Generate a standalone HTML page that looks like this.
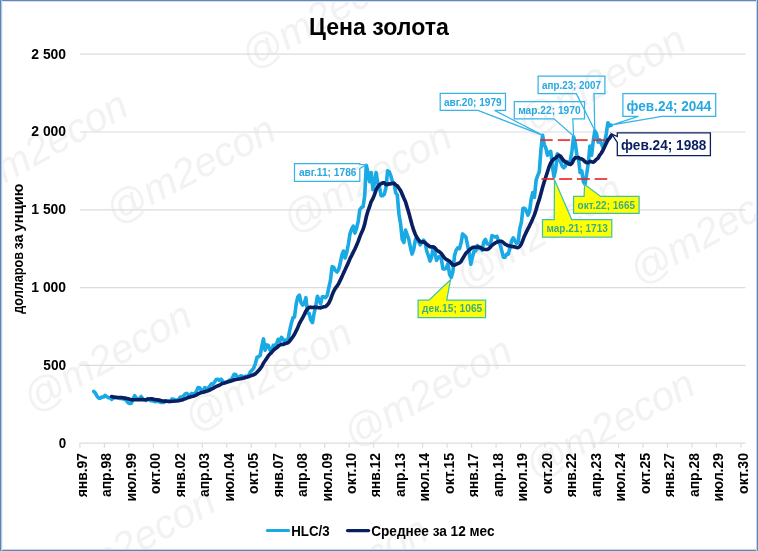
<!DOCTYPE html>
<html lang="ru">
<head>
<meta charset="utf-8">
<title>Цена золота</title>
<style>
html,body{margin:0;padding:0;background:#fff;}
body{width:758px;height:551px;overflow:hidden;font-family:"Liberation Sans", Arial, sans-serif;}
svg{display:block;}
</style>
</head>
<body>
<svg width="758" height="551" viewBox="0 0 758 551" font-family='"Liberation Sans", Arial, sans-serif'>
<rect x="0" y="0" width="758" height="551" fill="#fff"/>
<g fill="#f2f2f2" font-style="italic" font-weight="normal" font-size="40.6">
<text transform="translate(250.6 70.6) rotate(-29.0)" x="0" y="0">@m2econ</text>
<text transform="translate(526.8 138.0) rotate(-29.0)" x="0" y="0">@m2econ</text>
<text transform="translate(-31.3 203.4) rotate(-29.0)" x="0" y="0">@m2econ</text>
<text transform="translate(114.5 224.9) rotate(-27.7)" x="0" y="0">@m2econ</text>
<text transform="translate(292.3 234.4) rotate(-28.8)" x="0" y="0">@m2econ</text>
<text transform="translate(465.5 290.9) rotate(-30.4)" x="0" y="0">@m2econ</text>
<text transform="translate(639.0 285.8) rotate(-29.0)" x="0" y="0">@m2econ</text>
<text transform="translate(32.5 413.4) rotate(-28.8)" x="0" y="0">@m2econ</text>
<text transform="translate(194.0 433.1) rotate(-29.7)" x="0" y="0">@m2econ</text>
<text transform="translate(352.9 448.8) rotate(-28.9)" x="0" y="0">@m2econ</text>
<text transform="translate(534.5 480.5) rotate(-28.3)" x="0" y="0">@m2econ</text>
<text transform="translate(56.4 599.7) rotate(-29.0)" x="0" y="0">@m2econ</text>
<text transform="translate(269.0 628.4) rotate(-29.0)" x="0" y="0">@m2econ</text>
</g>
<line x1="79.9" x2="745.6" y1="365.40" y2="365.40" stroke="#dcdcdc" stroke-width="1.2"/>
<line x1="79.9" x2="745.6" y1="287.60" y2="287.60" stroke="#dcdcdc" stroke-width="1.2"/>
<line x1="79.9" x2="745.6" y1="209.80" y2="209.80" stroke="#dcdcdc" stroke-width="1.2"/>
<line x1="79.9" x2="745.6" y1="132.00" y2="132.00" stroke="#dcdcdc" stroke-width="1.2"/>
<line x1="79.9" x2="745.6" y1="54.20" y2="54.20" stroke="#dcdcdc" stroke-width="1.2"/>
<line x1="79.30000000000001" x2="745.6" y1="443.2" y2="443.2" stroke="#dcdcdc" stroke-width="1.2"/>
<line x1="79.90" x2="79.90" y1="443.2" y2="447.7" stroke="#dcdcdc" stroke-width="1.2"/>
<line x1="104.38" x2="104.38" y1="443.2" y2="447.7" stroke="#dcdcdc" stroke-width="1.2"/>
<line x1="128.86" x2="128.86" y1="443.2" y2="447.7" stroke="#dcdcdc" stroke-width="1.2"/>
<line x1="153.34" x2="153.34" y1="443.2" y2="447.7" stroke="#dcdcdc" stroke-width="1.2"/>
<line x1="177.83" x2="177.83" y1="443.2" y2="447.7" stroke="#dcdcdc" stroke-width="1.2"/>
<line x1="202.31" x2="202.31" y1="443.2" y2="447.7" stroke="#dcdcdc" stroke-width="1.2"/>
<line x1="226.79" x2="226.79" y1="443.2" y2="447.7" stroke="#dcdcdc" stroke-width="1.2"/>
<line x1="251.27" x2="251.27" y1="443.2" y2="447.7" stroke="#dcdcdc" stroke-width="1.2"/>
<line x1="275.75" x2="275.75" y1="443.2" y2="447.7" stroke="#dcdcdc" stroke-width="1.2"/>
<line x1="300.23" x2="300.23" y1="443.2" y2="447.7" stroke="#dcdcdc" stroke-width="1.2"/>
<line x1="324.71" x2="324.71" y1="443.2" y2="447.7" stroke="#dcdcdc" stroke-width="1.2"/>
<line x1="349.20" x2="349.20" y1="443.2" y2="447.7" stroke="#dcdcdc" stroke-width="1.2"/>
<line x1="373.68" x2="373.68" y1="443.2" y2="447.7" stroke="#dcdcdc" stroke-width="1.2"/>
<line x1="398.16" x2="398.16" y1="443.2" y2="447.7" stroke="#dcdcdc" stroke-width="1.2"/>
<line x1="422.64" x2="422.64" y1="443.2" y2="447.7" stroke="#dcdcdc" stroke-width="1.2"/>
<line x1="447.12" x2="447.12" y1="443.2" y2="447.7" stroke="#dcdcdc" stroke-width="1.2"/>
<line x1="471.60" x2="471.60" y1="443.2" y2="447.7" stroke="#dcdcdc" stroke-width="1.2"/>
<line x1="496.09" x2="496.09" y1="443.2" y2="447.7" stroke="#dcdcdc" stroke-width="1.2"/>
<line x1="520.57" x2="520.57" y1="443.2" y2="447.7" stroke="#dcdcdc" stroke-width="1.2"/>
<line x1="545.05" x2="545.05" y1="443.2" y2="447.7" stroke="#dcdcdc" stroke-width="1.2"/>
<line x1="569.53" x2="569.53" y1="443.2" y2="447.7" stroke="#dcdcdc" stroke-width="1.2"/>
<line x1="594.01" x2="594.01" y1="443.2" y2="447.7" stroke="#dcdcdc" stroke-width="1.2"/>
<line x1="618.49" x2="618.49" y1="443.2" y2="447.7" stroke="#dcdcdc" stroke-width="1.2"/>
<line x1="642.97" x2="642.97" y1="443.2" y2="447.7" stroke="#dcdcdc" stroke-width="1.2"/>
<line x1="667.46" x2="667.46" y1="443.2" y2="447.7" stroke="#dcdcdc" stroke-width="1.2"/>
<line x1="691.94" x2="691.94" y1="443.2" y2="447.7" stroke="#dcdcdc" stroke-width="1.2"/>
<line x1="716.42" x2="716.42" y1="443.2" y2="447.7" stroke="#dcdcdc" stroke-width="1.2"/>
<line x1="740.90" x2="740.90" y1="443.2" y2="447.7" stroke="#dcdcdc" stroke-width="1.2"/>
<text x="58.70" y="447.50" font-size="14" fill="#000" font-weight="bold" textLength="7.40" lengthAdjust="spacingAndGlyphs">0</text>
<text x="43.30" y="369.70" font-size="14" fill="#000" font-weight="bold" textLength="22.80" lengthAdjust="spacingAndGlyphs">500</text>
<text x="31.30" y="291.90" font-size="14" fill="#000" font-weight="bold" textLength="34.80" lengthAdjust="spacingAndGlyphs">1 000</text>
<text x="31.30" y="214.10" font-size="14" fill="#000" font-weight="bold" textLength="34.80" lengthAdjust="spacingAndGlyphs">1 500</text>
<text x="31.30" y="136.30" font-size="14" fill="#000" font-weight="bold" textLength="34.80" lengthAdjust="spacingAndGlyphs">2 000</text>
<text x="31.30" y="58.50" font-size="14" fill="#000" font-weight="bold" textLength="34.80" lengthAdjust="spacingAndGlyphs">2 500</text>
<text transform="translate(23.3 313.7) rotate(-90)" font-size="13.8" font-weight="bold" fill="#000"><tspan x="0" textLength="61.6" lengthAdjust="spacingAndGlyphs">долларов</tspan> <tspan x="64.2" textLength="15.0" lengthAdjust="spacingAndGlyphs">за</tspan> <tspan x="82.2" textLength="48.0" lengthAdjust="spacingAndGlyphs">унцию</tspan></text>
<text x="86.70" y="497.30" font-size="14" fill="#000" font-weight="bold" textLength="44.40" lengthAdjust="spacingAndGlyphs" transform="rotate(-90 86.70 497.30)">янв.97</text>
<text x="111.18" y="497.10" font-size="14" fill="#000" font-weight="bold" textLength="44.20" lengthAdjust="spacingAndGlyphs" transform="rotate(-90 111.18 497.10)">апр.98</text>
<text x="135.66" y="501.50" font-size="14" fill="#000" font-weight="bold" textLength="48.60" lengthAdjust="spacingAndGlyphs" transform="rotate(-90 135.66 501.50)">июл.99</text>
<text x="160.14" y="493.90" font-size="14" fill="#000" font-weight="bold" textLength="41.00" lengthAdjust="spacingAndGlyphs" transform="rotate(-90 160.14 493.90)">окт.00</text>
<text x="184.63" y="497.30" font-size="14" fill="#000" font-weight="bold" textLength="44.40" lengthAdjust="spacingAndGlyphs" transform="rotate(-90 184.63 497.30)">янв.02</text>
<text x="209.11" y="497.10" font-size="14" fill="#000" font-weight="bold" textLength="44.20" lengthAdjust="spacingAndGlyphs" transform="rotate(-90 209.11 497.10)">апр.03</text>
<text x="233.59" y="501.50" font-size="14" fill="#000" font-weight="bold" textLength="48.60" lengthAdjust="spacingAndGlyphs" transform="rotate(-90 233.59 501.50)">июл.04</text>
<text x="258.07" y="493.90" font-size="14" fill="#000" font-weight="bold" textLength="41.00" lengthAdjust="spacingAndGlyphs" transform="rotate(-90 258.07 493.90)">окт.05</text>
<text x="282.55" y="497.30" font-size="14" fill="#000" font-weight="bold" textLength="44.40" lengthAdjust="spacingAndGlyphs" transform="rotate(-90 282.55 497.30)">янв.07</text>
<text x="307.03" y="497.10" font-size="14" fill="#000" font-weight="bold" textLength="44.20" lengthAdjust="spacingAndGlyphs" transform="rotate(-90 307.03 497.10)">апр.08</text>
<text x="331.51" y="501.50" font-size="14" fill="#000" font-weight="bold" textLength="48.60" lengthAdjust="spacingAndGlyphs" transform="rotate(-90 331.51 501.50)">июл.09</text>
<text x="356.00" y="493.90" font-size="14" fill="#000" font-weight="bold" textLength="41.00" lengthAdjust="spacingAndGlyphs" transform="rotate(-90 356.00 493.90)">окт.10</text>
<text x="380.48" y="497.30" font-size="14" fill="#000" font-weight="bold" textLength="44.40" lengthAdjust="spacingAndGlyphs" transform="rotate(-90 380.48 497.30)">янв.12</text>
<text x="404.96" y="497.10" font-size="14" fill="#000" font-weight="bold" textLength="44.20" lengthAdjust="spacingAndGlyphs" transform="rotate(-90 404.96 497.10)">апр.13</text>
<text x="429.44" y="501.50" font-size="14" fill="#000" font-weight="bold" textLength="48.60" lengthAdjust="spacingAndGlyphs" transform="rotate(-90 429.44 501.50)">июл.14</text>
<text x="453.92" y="493.90" font-size="14" fill="#000" font-weight="bold" textLength="41.00" lengthAdjust="spacingAndGlyphs" transform="rotate(-90 453.92 493.90)">окт.15</text>
<text x="478.40" y="497.30" font-size="14" fill="#000" font-weight="bold" textLength="44.40" lengthAdjust="spacingAndGlyphs" transform="rotate(-90 478.40 497.30)">янв.17</text>
<text x="502.89" y="497.10" font-size="14" fill="#000" font-weight="bold" textLength="44.20" lengthAdjust="spacingAndGlyphs" transform="rotate(-90 502.89 497.10)">апр.18</text>
<text x="527.37" y="501.50" font-size="14" fill="#000" font-weight="bold" textLength="48.60" lengthAdjust="spacingAndGlyphs" transform="rotate(-90 527.37 501.50)">июл.19</text>
<text x="551.85" y="493.90" font-size="14" fill="#000" font-weight="bold" textLength="41.00" lengthAdjust="spacingAndGlyphs" transform="rotate(-90 551.85 493.90)">окт.20</text>
<text x="576.33" y="497.30" font-size="14" fill="#000" font-weight="bold" textLength="44.40" lengthAdjust="spacingAndGlyphs" transform="rotate(-90 576.33 497.30)">янв.22</text>
<text x="600.81" y="497.10" font-size="14" fill="#000" font-weight="bold" textLength="44.20" lengthAdjust="spacingAndGlyphs" transform="rotate(-90 600.81 497.10)">апр.23</text>
<text x="625.29" y="501.50" font-size="14" fill="#000" font-weight="bold" textLength="48.60" lengthAdjust="spacingAndGlyphs" transform="rotate(-90 625.29 501.50)">июл.24</text>
<text x="649.77" y="493.90" font-size="14" fill="#000" font-weight="bold" textLength="41.00" lengthAdjust="spacingAndGlyphs" transform="rotate(-90 649.77 493.90)">окт.25</text>
<text x="674.26" y="497.30" font-size="14" fill="#000" font-weight="bold" textLength="44.40" lengthAdjust="spacingAndGlyphs" transform="rotate(-90 674.26 497.30)">янв.27</text>
<text x="698.74" y="497.10" font-size="14" fill="#000" font-weight="bold" textLength="44.20" lengthAdjust="spacingAndGlyphs" transform="rotate(-90 698.74 497.10)">апр.28</text>
<text x="723.22" y="501.50" font-size="14" fill="#000" font-weight="bold" textLength="48.60" lengthAdjust="spacingAndGlyphs" transform="rotate(-90 723.22 501.50)">июл.29</text>
<text x="747.70" y="493.90" font-size="14" fill="#000" font-weight="bold" textLength="41.00" lengthAdjust="spacingAndGlyphs" transform="rotate(-90 747.70 493.90)">окт.30</text>
<text x="309.00" y="34.60" font-size="24.3" fill="#000" font-weight="bold" textLength="139.90" lengthAdjust="spacingAndGlyphs">Цена золота</text>
<polyline points="93.8,391.4 95.4,393.1 97.0,396.1 98.7,398.1 100.3,398.1 101.9,397.1 103.6,397.0 105.2,395.3 106.8,396.8 108.5,397.8 110.1,397.9 111.7,399.3 113.4,397.9 115.0,397.0 116.6,397.5 118.3,398.1 119.9,398.5 121.5,398.4 123.2,399.0 124.8,399.2 126.4,400.4 128.0,402.7 129.7,403.5 131.3,403.2 132.9,399.6 134.6,395.7 136.2,397.8 137.8,398.9 139.5,399.0 141.1,396.5 142.7,399.0 144.4,399.8 146.0,400.4 147.6,398.7 149.3,399.6 150.9,400.6 152.5,400.7 154.2,401.3 155.8,401.7 157.4,400.9 159.1,401.8 160.7,402.4 162.3,402.4 164.0,402.4 165.6,400.9 167.2,401.2 168.8,401.5 170.5,400.7 172.1,398.9 173.7,399.2 175.4,400.3 177.0,400.1 178.6,399.5 180.3,397.1 181.9,397.1 183.5,395.9 185.2,394.0 186.8,393.4 188.4,394.7 190.1,395.0 191.7,393.4 193.3,393.9 195.0,393.6 196.6,390.8 198.2,387.5 199.9,388.0 201.5,390.6 203.1,391.7 204.8,387.5 206.4,388.3 208.0,388.4 209.7,386.4 211.3,383.9 212.9,384.1 214.5,382.2 216.2,379.6 217.8,379.2 219.4,380.5 221.1,379.1 222.7,381.3 224.3,383.1 226.0,382.2 227.6,381.6 229.2,380.5 230.9,379.7 232.5,377.5 234.1,374.4 235.8,374.6 237.4,377.2 239.0,377.1 240.7,375.8 242.3,376.3 243.9,377.7 245.6,376.0 247.2,377.1 248.8,375.2 250.5,371.6 252.1,370.2 253.7,368.2 255.4,363.5 257.0,357.2 258.6,356.7 260.2,355.3 261.9,345.9 263.5,338.9 265.1,350.2 266.8,344.9 268.4,345.5 270.0,350.2 271.7,351.1 273.3,345.2 274.9,345.5 276.6,343.9 278.2,339.3 279.8,341.3 281.5,337.4 283.1,339.3 284.7,341.4 286.4,340.0 288.0,339.3 289.6,331.2 291.3,323.4 292.9,317.9 294.5,316.9 296.2,303.9 297.8,296.9 299.4,295.1 301.0,302.4 302.7,305.0 304.3,303.2 305.9,297.7 307.6,313.3 309.2,313.3 310.8,320.3 312.5,322.6 314.1,313.3 315.7,306.3 317.4,296.2 319.0,300.0 320.6,303.9 322.3,296.9 323.9,296.9 325.5,297.7 327.2,295.4 328.8,287.6 330.4,280.6 332.1,266.6 333.7,267.4 335.3,270.5 337.0,272.0 338.6,269.7 340.2,263.5 341.9,254.9 343.5,251.0 345.1,258.0 346.7,252.6 348.4,244.0 350.0,233.9 351.6,229.2 353.3,226.1 354.9,233.1 356.5,228.5 358.2,221.5 359.8,209.8 361.4,207.5 363.1,206.7 364.7,195.8 366.3,165.3 368.0,172.5 369.6,181.8 371.2,172.5 372.9,189.6 374.5,183.3 376.1,172.5 377.8,183.3 379.4,186.5 381.0,195.8 382.7,195.8 384.3,194.2 385.9,188.0 387.6,170.9 389.2,171.7 390.8,175.6 392.4,181.8 394.1,183.3 395.7,192.7 397.3,195.0 399.0,214.5 400.6,223.8 402.2,239.4 403.9,242.5 405.5,230.0 407.1,234.7 408.8,239.4 410.4,247.1 412.0,254.1 413.7,249.5 415.3,240.1 416.9,237.0 418.6,241.7 420.2,244.8 421.8,242.5 423.5,240.1 425.1,242.5 426.7,251.0 428.4,255.7 430.0,261.1 431.6,257.3 433.2,247.9 434.9,252.6 436.5,260.4 438.1,257.3 439.8,256.5 441.4,259.6 443.0,268.9 444.7,268.9 446.3,268.1 447.9,263.5 449.6,274.4 451.2,277.5 452.8,272.0 454.5,255.7 456.1,250.3 457.7,247.9 459.4,248.7 461.0,243.3 462.6,233.9 464.3,235.5 465.9,237.0 467.5,244.8 469.2,252.6 470.8,264.3 472.4,257.3 474.1,251.0 475.7,251.0 477.3,245.6 478.9,248.7 480.6,247.9 482.2,250.3 483.8,241.7 485.5,239.4 487.1,244.0 488.7,244.0 490.4,244.8 492.0,235.5 493.6,236.3 495.3,237.0 496.9,236.3 498.5,240.9 500.2,244.8 501.8,251.0 503.4,257.3 505.1,257.3 506.7,254.1 508.3,254.1 510.0,247.9 511.6,240.9 513.2,237.8 514.9,240.9 516.5,243.3 518.1,242.5 519.8,228.5 521.4,222.2 523.0,208.2 524.6,208.2 526.3,210.6 527.9,215.2 529.5,211.4 531.2,198.9 532.8,192.7 534.4,197.4 536.1,180.2 537.7,175.6 539.3,171.7 541.0,149.1 542.6,135.3 544.2,144.4 545.9,148.3 547.5,155.3 549.1,152.2 550.8,151.4 552.4,166.2 554.0,176.7 555.7,169.3 557.3,153.8 558.9,160.0 560.6,161.6 562.2,166.2 563.8,167.8 565.4,166.2 567.1,161.6 568.7,163.9 570.3,160.8 572.0,150.7 573.6,136.7 575.2,142.9 576.9,155.3 578.5,158.5 580.1,172.5 581.8,170.9 583.4,181.8 585.0,184.1 586.7,174.0 588.3,163.1 589.9,146.0 591.6,155.3 593.2,141.3 594.8,130.9 596.5,133.6 598.1,142.1 599.7,139.8 601.4,143.7 603.0,147.6 604.6,142.9 606.3,133.6 607.9,122.7 609.5,125.8 611.1,125.2" fill="none" stroke="#19a9e4" stroke-width="3.6" stroke-linejoin="round" stroke-linecap="round"/>
<polyline points="111.7,396.5 113.4,397.0 115.0,397.4 116.6,397.5 118.3,397.5 119.9,397.5 121.5,397.6 123.2,397.8 124.8,398.1 126.4,398.4 128.0,398.8 129.7,399.3 131.3,399.6 132.9,399.8 134.6,399.7 136.2,399.7 137.8,399.7 139.5,399.8 141.1,399.6 142.7,399.6 144.4,399.7 146.0,399.7 147.6,399.3 149.3,399.0 150.9,398.8 152.5,398.9 154.2,399.4 155.8,399.7 157.4,399.9 159.1,400.1 160.7,400.6 162.3,400.9 164.0,401.1 165.6,401.1 167.2,401.3 168.8,401.5 170.5,401.5 172.1,401.3 173.7,401.2 175.4,401.0 177.0,401.0 178.6,400.8 180.3,400.3 181.9,399.9 183.5,399.4 185.2,398.8 186.8,398.1 188.4,397.6 190.1,397.1 191.7,396.6 193.3,396.2 195.0,395.6 196.6,394.9 198.2,393.9 199.9,393.1 201.5,392.6 203.1,392.2 204.8,391.7 206.4,391.2 208.0,390.7 209.7,390.0 211.3,389.2 212.9,388.4 214.5,387.4 216.2,386.5 217.8,385.8 219.4,385.2 221.1,384.2 222.7,383.4 224.3,383.0 226.0,382.5 227.6,381.9 229.2,381.4 230.9,381.1 232.5,380.5 234.1,379.9 235.8,379.5 237.4,379.3 239.0,379.0 240.7,378.8 242.3,378.3 243.9,377.9 245.6,377.4 247.2,377.0 248.8,376.6 250.5,375.9 252.1,375.3 253.7,374.7 255.4,373.8 257.0,372.2 258.6,370.5 260.2,368.7 261.9,366.2 263.5,363.0 265.1,360.8 266.8,358.2 268.4,355.7 270.0,353.9 271.7,352.3 273.3,350.4 274.9,348.9 276.6,347.8 278.2,346.3 279.8,345.1 281.5,344.4 283.1,344.5 284.7,343.7 286.4,343.3 288.0,342.8 289.6,341.2 291.3,338.9 292.9,336.7 294.5,334.3 296.2,330.9 297.8,327.4 299.4,323.6 301.0,320.6 302.7,317.8 304.3,314.6 305.9,311.1 307.6,308.9 309.2,307.4 310.8,307.2 312.5,307.5 314.1,307.2 315.7,307.4 317.4,307.4 319.0,307.8 320.6,307.9 322.3,307.2 323.9,306.7 325.5,306.7 327.2,305.2 328.8,303.1 330.4,299.8 332.1,295.1 333.7,291.3 335.3,288.3 337.0,286.3 338.6,283.8 340.2,280.4 341.9,276.9 343.5,273.1 345.1,269.8 346.7,266.2 348.4,262.6 350.0,258.7 351.6,255.6 353.3,252.1 354.9,249.0 356.5,245.4 358.2,241.4 359.8,236.9 361.4,232.9 363.1,229.2 364.7,224.1 366.3,216.8 368.0,210.8 369.6,206.5 371.2,201.7 372.9,198.7 374.5,194.6 376.1,189.9 377.8,186.7 379.4,184.8 381.0,183.8 382.7,182.9 384.3,182.8 385.9,184.6 387.6,184.5 389.2,183.7 390.8,183.9 392.4,183.3 394.1,183.3 395.7,185.0 397.3,185.9 399.0,188.3 400.6,190.6 402.2,194.2 403.9,198.3 405.5,201.8 407.1,207.1 408.8,212.7 410.4,218.7 412.0,224.7 413.7,230.2 415.3,234.2 416.9,237.7 418.6,239.9 420.2,241.7 421.8,242.0 423.5,241.8 425.1,242.8 426.7,244.2 428.4,245.5 430.0,246.7 431.6,246.9 433.2,246.8 434.9,247.9 436.5,249.8 438.1,251.1 439.8,252.1 441.4,253.5 443.0,255.9 444.7,258.1 446.3,259.5 447.9,260.2 449.6,261.3 451.2,263.0 452.8,265.0 454.5,265.2 456.1,264.4 457.7,263.6 459.4,263.0 461.0,261.6 462.6,258.7 464.3,255.9 465.9,253.3 467.5,251.7 469.2,249.9 470.8,248.8 472.4,247.6 474.1,247.2 475.7,247.3 477.3,247.1 478.9,247.1 480.6,247.5 482.2,248.8 483.8,249.3 485.5,249.5 487.1,249.5 488.7,248.8 490.4,247.1 492.0,245.3 493.6,244.1 495.3,242.9 496.9,242.2 498.5,241.5 500.2,241.2 501.8,241.3 503.4,242.6 505.1,244.1 506.7,244.9 508.3,245.8 510.0,246.0 511.6,246.5 513.2,246.6 514.9,246.9 516.5,247.5 518.1,247.7 519.8,246.3 521.4,243.9 523.0,239.8 524.6,235.7 526.3,232.1 527.9,228.9 529.5,225.8 531.2,222.3 532.8,218.6 534.4,214.9 536.1,209.7 537.7,204.1 539.3,199.4 541.0,193.3 542.6,187.2 544.2,181.9 545.9,176.7 547.5,171.7 549.1,166.8 550.8,162.8 552.4,160.6 554.0,158.9 555.7,158.0 557.3,156.2 558.9,155.2 560.6,156.2 562.2,158.8 563.8,160.7 565.4,162.2 567.1,162.8 568.7,163.7 570.3,164.5 572.0,163.2 573.6,159.9 575.2,157.7 576.9,157.8 578.5,157.7 580.1,158.6 581.8,159.0 583.4,160.1 585.0,161.6 586.7,162.7 588.3,162.6 589.9,161.4 591.6,161.8 593.2,162.1 594.8,161.1 596.5,159.3 598.1,158.0 599.7,155.2 601.4,153.0 603.0,150.1 604.6,146.7 606.3,143.3 607.9,139.9 609.5,138.3 611.1,135.7" fill="none" stroke="#0a1f62" stroke-width="3.65" stroke-linejoin="round" stroke-linecap="round"/>
<g stroke="#e8231f" stroke-width="1.9" fill="none" opacity="0.85">
<line x1="540.3" x2="552.7" y1="140.1" y2="140.1"/>
<line x1="557.8" x2="570.2" y1="140.1" y2="140.1"/>
<line x1="575.3" x2="587.7" y1="140.1" y2="140.1"/>
<line x1="592.8" x2="605.2" y1="140.1" y2="140.1"/>
<line x1="541.5" x2="554.5" y1="179.0" y2="179.0"/>
<line x1="559.2" x2="572.2" y1="179.0" y2="179.0"/>
<line x1="576.9" x2="589.9" y1="179.0" y2="179.0"/>
<line x1="594.6" x2="607.2" y1="179.0" y2="179.0"/>
</g>
<polygon points="573.6,196.4 584.1,196.4 584.6,184.4 600.7,196.4 639.1,196.4 639.1,213.4 573.6,213.4" fill="#ffff00"/>
<polygon points="542.5,219.5 554.2,219.5 554.5,179.8 571.7,219.5 611.8,219.5 611.8,237.0 542.5,237.0" fill="#ffff00"/>
<polygon points="418.1,300.1 429.0,300.1 450.5,279.8 446.7,300.1 485.6,300.1 485.6,317.5 418.1,317.5" fill="#ffff00"/>
<polygon points="294.5,163.5 359.8,163.5 359.8,164.5 366.4,164.6 359.8,168.5 359.8,181.3 294.5,181.3" fill="none" stroke="#35b4ea" stroke-width="1.25" stroke-linejoin="miter"/>
<polygon points="440.2,93.4 505.5,93.4 505.5,110.4 494.6,110.4 542.9,135.4 477.9,110.4 440.2,110.4" fill="none" stroke="#35b4ea" stroke-width="1.25" stroke-linejoin="miter"/>
<polygon points="538.1,76.1 604.9,76.1 604.9,93.6 594.0,93.6 594.8,130.5 576.3,93.6 538.1,93.6" fill="none" stroke="#35b4ea" stroke-width="1.25" stroke-linejoin="miter"/>
<polygon points="514.3,101.7 584.5,101.7 584.5,118.9 572.8,118.9 573.6,136.0 554.0,118.9 514.3,118.9" fill="none" stroke="#35b4ea" stroke-width="1.25" stroke-linejoin="miter"/>
<polygon points="622.9,93.7 715.7,93.7 715.7,116.4 662.0,116.4 612.2,124.9 638.4,116.4 622.9,116.4" fill="none" stroke="#35b4ea" stroke-width="1.25" stroke-linejoin="miter"/>
<polygon points="617.3,132.9 710.4,132.9 710.4,155.6 617.3,155.6 617.3,142.5 611.6,133.8 617.3,136.5" fill="none" stroke="#0a1f62" stroke-width="1.3" stroke-linejoin="miter"/>
<polygon points="573.6,196.4 584.1,196.4 584.6,184.4 600.7,196.4 639.1,196.4 639.1,213.4 573.6,213.4" fill="none" stroke="#3cc3b0" stroke-width="1.25" stroke-linejoin="miter"/>
<polygon points="542.5,219.5 554.2,219.5 554.5,179.8 571.7,219.5 611.8,219.5 611.8,237.0 542.5,237.0" fill="none" stroke="#3cc3b0" stroke-width="1.25" stroke-linejoin="miter"/>
<polygon points="418.1,300.1 429.0,300.1 450.5,279.8 446.7,300.1 485.6,300.1 485.6,317.5 418.1,317.5" fill="none" stroke="#3cc3b0" stroke-width="1.25" stroke-linejoin="miter"/>
<text x="298.90" y="175.90" font-size="10.3" fill="#27a8e0" font-weight="bold" textLength="57.60" lengthAdjust="spacingAndGlyphs">авг.11; 1786</text>
<text x="444.00" y="105.70" font-size="10.3" fill="#27a8e0" font-weight="bold" textLength="57.70" lengthAdjust="spacingAndGlyphs">авг.20; 1979</text>
<text x="542.00" y="88.60" font-size="10.3" fill="#27a8e0" font-weight="bold" textLength="59.00" lengthAdjust="spacingAndGlyphs">апр.23; 2007</text>
<text x="518.20" y="114.10" font-size="10.3" fill="#27a8e0" font-weight="bold" textLength="62.40" lengthAdjust="spacingAndGlyphs">мар.22; 1970</text>
<text x="626.60" y="110.70" font-size="14.0" fill="#27a8e0" font-weight="bold" textLength="84.80" lengthAdjust="spacingAndGlyphs">фев.24; 2044</text>
<text x="621.10" y="149.80" font-size="14.0" fill="#0a1f62" font-weight="bold" textLength="85.30" lengthAdjust="spacingAndGlyphs">фев.24; 1988</text>
<text x="577.60" y="208.70" font-size="10.3" fill="#38ad8c" font-weight="bold" textLength="57.50" lengthAdjust="spacingAndGlyphs">окт.22; 1665</text>
<text x="546.50" y="232.00" font-size="10.3" fill="#38ad8c" font-weight="bold" textLength="61.30" lengthAdjust="spacingAndGlyphs">мар.21; 1713</text>
<text x="422.00" y="312.30" font-size="10.3" fill="#38ad8c" font-weight="bold" textLength="60.30" lengthAdjust="spacingAndGlyphs">дек.15; 1065</text>
<line x1="267.3" x2="288.6" y1="530.6" y2="530.6" stroke="#19a9e4" stroke-width="3" stroke-linecap="round"/>
<text x="291.20" y="536.20" font-size="14" fill="#000" font-weight="bold" textLength="38.40" lengthAdjust="spacingAndGlyphs">HLC/3</text>
<line x1="347.5" x2="368.6" y1="530.6" y2="530.6" stroke="#0a1f62" stroke-width="3.2" stroke-linecap="round"/>
<text x="371.20" y="536.20" font-size="14" fill="#000" font-weight="bold" textLength="123.40" lengthAdjust="spacingAndGlyphs">Среднее за 12 мес</text>
<g shape-rendering="crispEdges">
<rect x="0" y="0" width="758" height="1" fill="#6288b7"/>
<rect x="0" y="1" width="758" height="1" fill="#d3e0f1"/>
<rect x="0" y="550" width="758" height="1" fill="#5f86b5"/>
<rect x="0" y="549" width="758" height="1" fill="#c3d4eb"/>
<rect x="1" y="0" width="1" height="551" fill="#b4c9e6"/>
<rect x="2" y="1" width="1" height="549" fill="#eef3fb"/>
<rect x="0" y="0" width="1" height="551" fill="#5d84b4"/>
<rect x="756" y="0" width="1" height="551" fill="#c3d4eb"/>
<rect x="757" y="0" width="1" height="551" fill="#5f86b5"/>
</g>
</svg>
</body>
</html>
